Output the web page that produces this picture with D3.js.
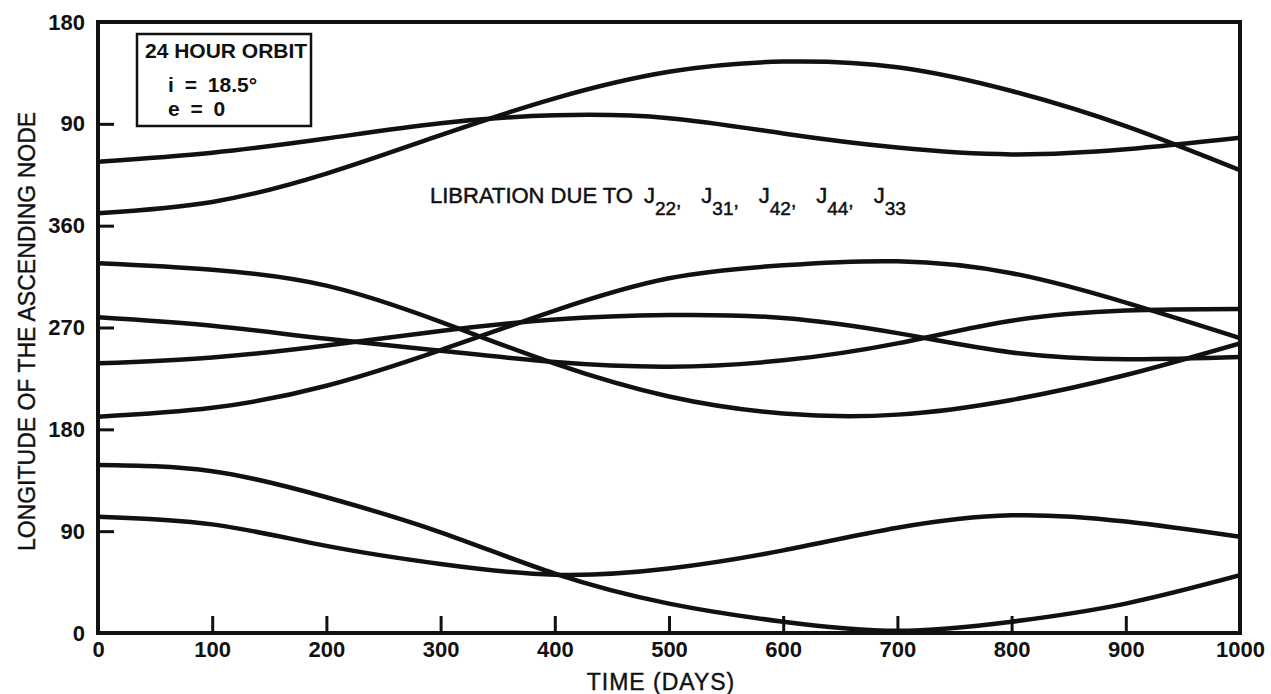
<!DOCTYPE html>
<html>
<head>
<meta charset="utf-8">
<script src="https://cdn.jsdelivr.net/npm/d3@7/dist/d3.min.js"></script>
<style>
  body { margin: 0; background: #fff; }
  text { font-family: "Liberation Sans", Arial, sans-serif; fill: #111; }
</style>
</head>
<body>
<svg id="chart" width="1271" height="694"></svg>
<script>
// Days sampled along the x axis
const days = [0, 100, 200, 300, 400, 500, 600, 700, 800, 900, 1000];

// Longitude of node (degrees, unwrapped: 360..540 is shown as 0..180 again)
const nodeA = [416.5, 424.5, 437, 450.5, 457.5, 455, 441.5, 429, 423, 427.5, 437.7];
const nodeB = [371, 381, 406, 440, 472.5, 496, 505, 500, 479, 448, 409];
const nodeC = [326.7, 321, 307, 275, 238, 209, 194, 193, 206, 228, 256];
const nodeD = [279, 271.5, 260, 249.5, 239.5, 235.4, 241, 256, 276, 285, 286.4];
const nodeE = [238.3, 243.5, 254, 267, 277, 281, 278.4, 265, 248, 242, 243.9];
const nodeF = [191.2, 199, 218.5, 250, 285, 313.5, 325, 328.5, 318, 292, 260.7];
const nodeG = [148.5, 143, 120, 89, 52.5, 26, 10, 2, 10, 26, 51];
const nodeH = [102.8, 96, 77, 61, 51.5, 57, 73, 93, 104, 98.5, 85];

const xTicks = [0, 100, 200, 300, 400, 500, 600, 700, 800, 900, 1000];
const yTicks = [0, 90, 180, 270, 360, 450, 540];
const yTickLabels = ["0", "90", "180", "270", "360", "90", "180"];
const subs = ["22", "31", "42", "44", "33"];

const svg = d3.select("svg#chart");
const margin = { top: 22, right: 31, bottom: 61, left: 98 };
const width = +svg.attr("width");
const height = +svg.attr("height");
const plotWidth = width - margin.left - margin.right;
const plotHeight = height - margin.top - margin.bottom;

const plot = svg.append("g")
  .attr("transform", "translate(" + margin.left + "," + margin.top + ")");

const x = d3.scaleLinear().domain([0, 1000]).range([0, plotWidth]);
const y = d3.scaleLinear().domain([0, 540]).range([plotHeight, 0]);

// clip so the curves stop at the frame
svg.append("defs").append("clipPath").attr("id", "clip")
  .append("rect").attr("width", plotWidth).attr("height", plotHeight);

// x axis: ticks pointing up into the plot
const xAxis = plot.append("g")
  .attr("transform", "translate(0," + plotHeight + ")")
  .call(d3.axisBottom(x).tickValues(xTicks).tickFormat(d3.format("d"))
    .tickSizeInner(-17).tickSizeOuter(0).tickPadding(8));

// y axis: ticks pointing right into the plot
const yAxis = plot.append("g")
  .call(d3.axisLeft(y).tickValues(yTicks).tickFormat((d, i) => yTickLabels[i])
    .tickSizeInner(-16).tickSizeOuter(0).tickPadding(13));

[xAxis, yAxis].forEach(a => {
  a.select(".domain").remove();
  a.selectAll(".tick line").attr("stroke", "#111").attr("stroke-width", 3);
  a.selectAll(".tick text")
    .style("font-family", "'Liberation Sans', Arial, sans-serif")
    .style("font-size", "22px")
    .style("font-weight", "bold")
    .attr("fill", "#111");
});

// plot frame
plot.append("rect")
  .attr("width", plotWidth)
  .attr("height", plotHeight)
  .attr("fill", "none")
  .attr("stroke", "#111")
  .attr("stroke-width", 4);

// curves
const line = d3.line()
  .x((d, i) => x(days[i]))
  .y(d => y(d))
  .curve(d3.curveNatural);

const series = [nodeA, nodeB, nodeC, nodeD, nodeE, nodeF, nodeG, nodeH];
plot.append("g").attr("clip-path", "url(#clip)")
  .selectAll("path.node").data(series)
  .join("path")
  .attr("class", "node")
  .attr("d", line)
  .attr("fill", "none")
  .attr("stroke", "#111")
  .attr("stroke-width", 4.5)
  .attr("stroke-linecap", "round");

// inset box
const inset = svg.append("g");
inset.append("rect")
  .attr("x", 137).attr("y", 34)
  .attr("width", 174).attr("height", 92)
  .attr("fill", "#fff")
  .attr("stroke", "#111")
  .attr("stroke-width", 2.5);
inset.append("text")
  .attr("x", 145).attr("y", 58)
  .style("font-size", "21px").style("font-weight", "bold")
  .text("24 HOUR ORBIT");
inset.append("text")
  .attr("x", 168).attr("y", 92)
  .style("font-size", "21px").style("font-weight", "bold")
  .style("word-spacing", "5px")
  .text("i = 18.5°");
inset.append("text")
  .attr("x", 168).attr("y", 116)
  .style("font-size", "21px").style("font-weight", "bold")
  .style("word-spacing", "5px")
  .text("e = 0");

// libration note with subscripts
const note = svg.append("text")
  .attr("x", 430).attr("y", 203)
  .style("font-size", "22px")
  .attr("stroke", "#111").attr("stroke-width", 0.5);
note.append("tspan").text("LIBRATION DUE TO");
subs.forEach((s, i) => {
  note.append("tspan").attr("dx", i === 0 ? 11 : 20).attr("dy", i === 0 ? 0 : -4).text("J");
  note.append("tspan").attr("dy", 12).style("font-size", "19px").text(s);
  if (i < subs.length - 1) {
    note.append("tspan").attr("dy", -8).style("font-size", "19px").text(",");
  }
});

// axis titles
svg.append("text")
  .attr("transform", "translate(35," + (margin.top + plotHeight / 2 + 4) + ") rotate(-90)")
  .attr("text-anchor", "middle")
  .style("font-size", "23px")
  .attr("stroke", "#111").attr("stroke-width", 0.4)
  .text("LONGITUDE OF THE ASCENDING NODE");

svg.append("text")
  .attr("x", 661).attr("y", 690)
  .attr("text-anchor", "middle")
  .style("font-size", "23px")
  .style("letter-spacing", "1px")
  .attr("stroke", "#111").attr("stroke-width", 0.4)
  .text("TIME (DAYS)");
</script>
</body>
</html>
